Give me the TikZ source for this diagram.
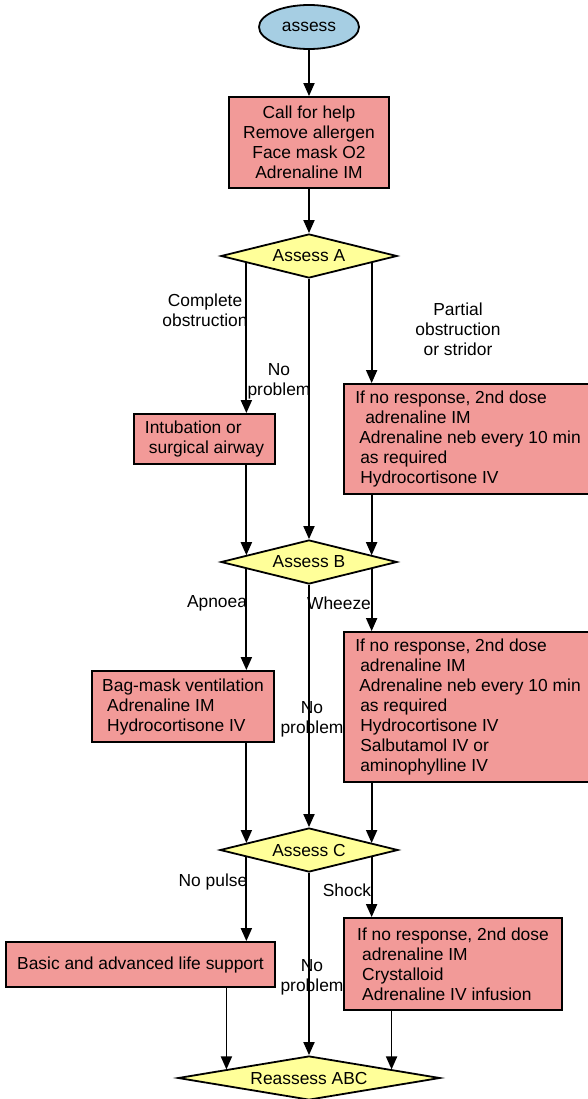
\documentclass[tikz,border=0pt]{standalone}
\usepackage{fontspec}
\setmainfont{Liberation Sans}
\usetikzlibrary{arrows.meta,calc,shapes.geometric}
\definecolor{startblue}{HTML}{A6CEE3}
\definecolor{actred}{HTML}{F29A98}
\definecolor{askyellow}{HTML}{FFFF99}
\def\ind#1{\hspace*{#1pt}}
\tikzset{
	every node/.style={font=\fontsize{17.4}{20}\selectfont},
	act/.style={draw, line width=1.8pt, fill=actred, inner sep=0pt, align=left},
	ask/.style={diamond, draw, line width=1.8pt, fill=askyellow, inner sep=0pt, aspect=4, minimum width=176pt, minimum height=44pt},
	flow/.style={line width=1.8pt, -{Triangle[length=13pt,width=11pt]}},
	tag/.style={align=center, inner sep=0pt}
}

\begin{document}
\begin{tikzpicture}[x=1pt, y=-1pt]
			%%%%% START %%%%%
			\useasboundingbox (0, 0) rectangle (588, 1099);
			
			\node[ellipse, draw, line width=1.8pt, fill=startblue, minimum width=100pt, minimum height=44pt] (assess) at (309, 27) {assess};
			\node[act, align=center, minimum width=160pt, minimum height=91pt] (help) at (309, 142.5) {Call for help\\Remove allergen\\Face mask O2\\Adrenaline IM};
			
			\node[ask] (askA) at (309, 256) {Assess A};
			\node[ask] (askB) at (309, 562) {Assess B};
			\node[ask, minimum width=178pt] (askC) at (309, 850) {Assess C};
			\node[ask, minimum width=262pt] (redo) at (309, 1078) {Reassess ABC};
			
			\node[act, minimum width=141pt, minimum height=50pt] (intub) at (204.5, 439) {Intubation or\\\ind{4}surgical airway};
			\node[act, minimum width=248pt, minimum height=110pt] (respA) at (468, 439) {If no response, 2nd dose\\\ind{10}adrenaline IM\\\ind{4}Adrenaline neb every 10 min\\\ind{5}as required\\\ind{5}Hydrocortisone IV};
			
			\node[act, minimum width=182pt, minimum height=71pt] (bag) at (183, 706.5) {Bag-mask ventilation\\\ind{5}Adrenaline IM\\\ind{5}Hydrocortisone IV};
			\node[act, minimum width=248pt, minimum height=150pt] (respB) at (468, 707) {If no response, 2nd dose\\\ind{5}adrenaline IM\\\ind{4}Adrenaline neb every 10 min\\\ind{5}as required\\\ind{5}Hydrocortisone IV\\\ind{5}Salbutamol IV or\\\ind{5}aminophylline IV};
			
			\node[act, align=center, minimum width=269pt, minimum height=45pt] (life) at (140.5, 964.5) {Basic and advanced life support};
			\node[act, minimum width=218pt, minimum height=92pt] (respC) at (453, 964) {If no response, 2nd dose\\\ind{5}adrenaline IM\\\ind{5}Crystalloid\\\ind{5}Adrenaline IV infusion};
			
			% ports on the diamond edges
			\coordinate (aL) at ($(askA.west)!0.2955!(askA.south)$);
			\coordinate (aR) at ($(askA.east)!0.2955!(askA.south)$);
			\coordinate (bLi) at ($(askB.west)!0.2955!(askB.north)$);
			\coordinate (bRi) at ($(askB.east)!0.2955!(askB.north)$);
			\coordinate (bL) at ($(askB.west)!0.2955!(askB.south)$);
			\coordinate (bR) at ($(askB.east)!0.2955!(askB.south)$);
			\coordinate (cLi) at ($(askC.west)!0.3034!(askC.north)$);
			\coordinate (cRi) at ($(askC.east)!0.3034!(askC.north)$);
			\coordinate (cL) at ($(askC.west)!0.3034!(askC.south)$);
			\coordinate (cR) at ($(askC.east)!0.3034!(askC.south)$);
			\coordinate (rL) at ($(redo.west)!0.374!(redo.north)$);
			\coordinate (rR) at ($(redo.east)!0.374!(redo.north)$);
			
			\draw[flow] (assess) -- (help);
			\draw[flow] (help) -- (askA);
			
			\draw[flow] (aL) -- (aL |- intub.north);
			\draw[flow] (askA) -- (askB);
			\draw[flow] (aR) -- (aR |- respA.north);
			\draw[flow] (bLi |- intub.south) -- (bLi);
			\draw[flow] (bRi |- respA.south) -- (bRi);
			
			\draw[flow] (bL) -- (bL |- bag.north);
			\draw[flow] (askB) -- (askC);
			\draw[flow] (bR) -- (bR |- respB.north);
			\draw[flow] (cLi |- bag.south) -- (cLi);
			\draw[flow] (cRi |- respB.south) -- (cRi);
			
			\draw[flow] (cL) -- (cL |- life.north);
			\draw[flow] (askC) -- (redo);
			\draw[flow] (cR) -- (cR |- respC.north);
			\draw[flow] (rL |- life.south) -- (rL);
			\draw[flow] (rR |- respC.south) -- (rR);
			
			\node[tag] (lblComplete) at (205, 310) {Complete\\obstruction};
			\node[tag] (lblNoA) at (279, 381) {No\\problem};
			\node[tag] (lblPartial) at (458, 329) {Partial\\obstruction\\or stridor};
			\node[tag] (lblApnoea) at (217, 603) {Apnoea};
			\node[tag] (lblWheeze) at (339, 603) {Wheeze};
			\node[tag] (lblNoB) at (312, 719) {No\\problem};
			\node[tag] (lblPulse) at (213, 882) {No pulse};
			\node[tag] (lblShock) at (347, 890) {Shock};
			\node[tag] (lblNoC) at (312, 977) {No\\problem};
			
			%%%%% END %%%%%
\end{tikzpicture}
\end{document}
